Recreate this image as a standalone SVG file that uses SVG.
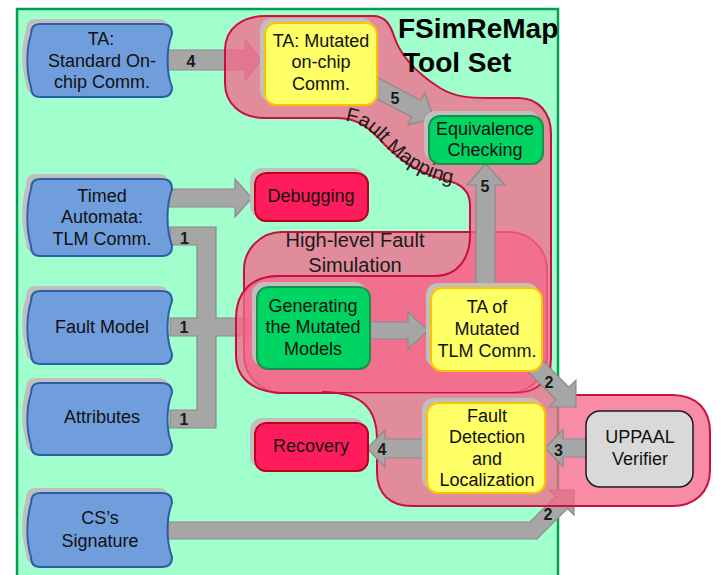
<svg xmlns="http://www.w3.org/2000/svg" width="727" height="575" viewBox="0 0 727 575">
<style>
.t{font-family:"Liberation Sans",Arial,sans-serif;font-size:18px;fill:#111;text-anchor:middle}
.lb{font-family:"Liberation Sans",Arial,sans-serif;font-size:16px;font-weight:bold;fill:#1a1a1a;text-anchor:middle}
.ttl{font-family:"Liberation Sans",Arial,sans-serif;font-size:28px;font-weight:bold;fill:#000}
.grp{font-family:"Liberation Sans",Arial,sans-serif;font-size:20px;fill:#1a1a1a}
.arr{fill:#A6A6A6;stroke:#8A8A8A;stroke-width:1.2;stroke-linejoin:miter}
.blob{fill:rgb(246,104,138);fill-opacity:0.76;stroke:#C8103E;stroke-width:2}
.bfill{fill:rgb(246,104,138);fill-opacity:0.76;stroke:none}
.bline{fill:none;stroke:#C8103E;stroke-width:2}
.blue{fill:#709EDC;stroke:#2C5EA8;stroke-width:2}
.yel{fill:#FFFF66;stroke:#FFC000;stroke-width:2}
.grn{fill:#00D462;stroke:#16924E;stroke-width:2}
.red{fill:#FF1F5C;stroke:#C00018;stroke-width:2}
.gry{fill:#D9D9D9;stroke:#1A1A1A;stroke-width:1.5}
</style>
<defs>
<filter id="sh" x="-10%" y="-10%" width="120%" height="120%">
<feFlood flood-color="#BFBFBF"/>
<feComposite in2="SourceAlpha" operator="in"/>
<feOffset dx="-4" dy="-4" result="s"/>
<feMerge><feMergeNode in="s"/><feMergeNode in="SourceGraphic"/></feMerge>
</filter>
<path id="fmPath" d="M338,120.5 C359,120.5 371,130.5 386,147.5 C406,167.5 426,177.5 446,182.5 L481,188.5"/>
</defs>

<rect x="17" y="9" width="541" height="580" fill="#A0FFCC" stroke="#00A050" stroke-width="2.5"/>

<g id="connectors-under">
<path class="arr" d="M168,50 H245 V40 L262,60 L245,80 V70 H168 Z"/>
<path class="arr" d="M170,227 H216 V318 H257 V336 H216 V428 H170 V410 H197 V336 H170 V318 H197 V245 H170 Z"/>
<path class="arr" d="M168,522 H530 L555.5,496.5 L549,490 H574 V515 L567.5,508.5 L537,539 H168 Z"/>
</g>

<g id="groups">
<rect class="blob" x="244" y="232" width="303" height="161" rx="38"/>
<path class="blob" d="M265,16 H373 C385,16 390,24 394,36 C401,58 418,74 440,88 C455,97 468,98 490,98 H518 C538,98 551,112 551,134 V358 C551,380 538,393 515,393 H285 C253,393 236,378 236,355 V318 C236,292 252,276 278,276 H435 C458,276 470,258 470,235 V205 C470,190 460,183 445,180 C425,175 405,165 385,145 C370,128 358,118 337,118 H265 C240,118 225,103 225,83 V50 C225,28 243,16 265,16 Z"/>
<path class="bfill" d="M322,392 C362,392 377,408 377,440 V472 C377,494 390,506 412,506 H672 C695,506 710,492 710,470 V432 C710,410 697,395 672,395 H552 V360 C552,380 538,393 515,393 L322,393 Z"/>
<path class="bline" d="M322,392 C362,392 377,408 377,440 V472 C377,494 390,506 412,506 H672 C695,506 710,492 710,470 V432 C710,410 697,395 672,395 H565"/>
<text class="grp" text-anchor="middle" x="355" y="247">High-level Fault</text>
<text class="grp" text-anchor="middle" x="355" y="272">Simulation</text>
<text class="grp"><textPath href="#fmPath" startOffset="7">Fault Mapping</textPath></text>
</g>

<g id="connectors">
<path class="arr" d="M168,189 H235 V179 L252,198 L235,217 V207 H168 Z"/>
<path class="arr" d="M0,-9.5 H54.7 V-18 L74.7,0 L54.7,18 V9.5 H0 Z" transform="translate(368,83.2) rotate(28)"/>
<path class="arr" d="M476,290 V185 H467 L485.5,164 L505,185 H495 V290 Z"/>
<path class="arr" d="M368,322 H408 V312 L428,330.5 L408,349 V339 H368 Z"/>
<path class="arr" d="M0,-9 H48.8 V-19 L67.9,0 L48.8,19 V9 H0 Z" transform="translate(528,359) rotate(45)"/>
<path class="arr" d="M588,439 H563 V429.5 L545,448 L563,466.5 V457 H588 Z"/>
<path class="arr" d="M428,439 H385 V430 L367,448.5 L385,467 V458 H428 Z"/>
</g>

<g id="n-ta-standard" filter="url(#sh)">
<path class="blue" d="M40,24 H162 Q172,24 172,34 C166,49.6 166,71.4 172,87 Q172,97 162,97 H40 Q31,97 31,87 C26,71.4 26,49.6 31,34 Q31,24 40,24 Z"/>
</g>
<g id="n-ta-standard-text"><text class="t" x="101" y="45">TA:</text><text class="t" x="102" y="67">Standard On-</text><text class="t" x="102" y="88">chip Comm.</text></g>

<g id="n-timed" filter="url(#sh)">
<path class="blue" d="M40,179 H162 Q172,179 172,189 C166,206 166,229 172,246 Q172,256 162,256 H40 Q31,256 31,246 C26,229 26,206 31,189 Q31,179 40,179 Z"/>
</g>
<g id="n-timed-text"><text class="t" x="102" y="202">Timed</text><text class="t" x="102" y="223">Automata:</text><text class="t" x="102" y="245">TLM Comm.</text></g>

<g id="n-fault-model" filter="url(#sh)">
<path class="blue" d="M40,291 H162 Q172,291 172,301 C166,316.6 166,338.4 172,354 Q172,364 162,364 H40 Q31,364 31,354 C26,338.4 26,316.6 31,301 Q31,291 40,291 Z"/>
</g>
<g id="n-fault-model-text"><text class="t" x="102" y="333">Fault Model</text></g>

<g id="n-attributes" filter="url(#sh)">
<path class="blue" d="M40,383 H162 Q172,383 172,393 C166,408.2 166,429.8 172,445 Q172,455 162,455 H40 Q31,455 31,445 C26,429.8 26,408.2 31,393 Q31,383 40,383 Z"/>
</g>
<g id="n-attributes-text"><text class="t" x="102" y="423">Attributes</text></g>

<g id="n-cs-signature" filter="url(#sh)">
<path class="blue" d="M40,493 H162 Q172,493 172,503 C166,518.9 166,541.1 172,557 Q172,567 162,567 H40 Q31,567 31,557 C26,541.1 26,518.9 31,503 Q31,493 40,493 Z"/>
</g>
<g id="n-cs-signature-text"><text class="t" x="100" y="524">CS’s</text><text class="t" x="100" y="547">Signature</text></g>

<g id="n-ta-mutated"><rect class="yel" x="265" y="23" width="112" height="82" rx="11" filter="url(#sh)"/>
<text class="t" x="321" y="47">TA: Mutated</text><text class="t" x="321" y="68">on-chip</text><text class="t" x="321" y="90">Comm.</text></g>

<g id="n-equivalence"><rect class="grn" x="429" y="116" width="114" height="48" rx="11" filter="url(#sh)"/>
<text class="t" x="485" y="135">Equivalence</text><text class="t" x="485" y="156">Checking</text></g>

<g id="n-debugging"><rect class="red" x="255" y="173" width="113" height="48" rx="11" filter="url(#sh)"/>
<text class="t" x="311" y="202">Debugging</text></g>

<g id="n-generating"><rect class="grn" x="257" y="287" width="113" height="82" rx="11" filter="url(#sh)"/>
<text class="t" x="313" y="312">Generating</text><text class="t" x="313" y="333">the Mutated</text><text class="t" x="313" y="355">Models</text></g>

<g id="n-ta-of-mutated"><rect class="yel" x="431" y="288" width="111" height="83" rx="11" filter="url(#sh)"/>
<text class="t" x="487" y="313">TA of</text><text class="t" x="487" y="335">Mutated</text><text class="t" x="487" y="357">TLM Comm.</text></g>

<g id="n-fault-detection"><rect class="yel" x="427" y="403" width="118" height="90" rx="11" filter="url(#sh)"/>
<text class="t" x="487" y="422">Fault</text><text class="t" x="487" y="443">Detection</text><text class="t" x="487" y="465">and</text><text class="t" x="487" y="486">Localization</text></g>

<g id="n-recovery"><rect class="red" x="255" y="423" width="113" height="48" rx="11" filter="url(#sh)"/>
<text class="t" x="311" y="452">Recovery</text></g>

<g id="n-uppaal"><rect class="gry" x="586" y="411" width="107" height="76" rx="14"/>
<text class="t" x="640" y="443">UPPAAL</text><text class="t" x="640" y="465">Verifier</text></g>

<g id="title"><text class="ttl" x="398" y="38">FSimReMap</text><text class="ttl" x="403" y="72">Tool Set</text></g>

<g id="connector-labels">
<text class="lb" x="191" y="67">4</text>
<text class="lb" x="184.5" y="244">1</text>
<text class="lb" x="184" y="333">1</text>
<text class="lb" x="184" y="425">1</text>
<text class="lb" x="395" y="104">5</text>
<text class="lb" x="485" y="192">5</text>
<text class="lb" x="549" y="388">2</text>
<text class="lb" x="548" y="520">2</text>
<text class="lb" x="558.5" y="456">3</text>
<text class="lb" x="382" y="455">4</text>
</g>
</svg>
